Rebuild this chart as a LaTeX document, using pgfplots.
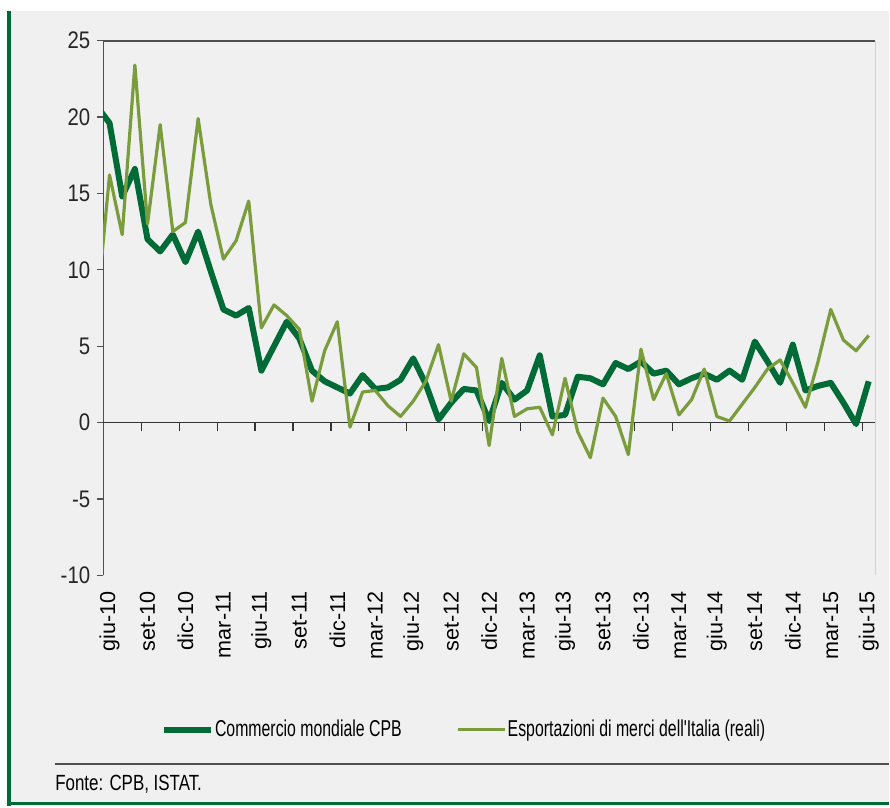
\documentclass[border=0pt]{standalone}
\usepackage{pgfplots}
\pgfplotsset{compat=1.18}
\usepackage{fontspec}
\setmainfont{Liberation Sans}
\newfontfamily\narrowA{Liberation Sans}[FakeStretch=0.69]
\newfontfamily\narrowB{Liberation Sans}[FakeStretch=0.85]
\newfontfamily\narrowC{Liberation Sans}[FakeStretch=0.77]

\definecolor{bggray}{RGB}{240,240,240}
\definecolor{dkgreen}{RGB}{0,107,55}
\definecolor{ltgreen}{RGB}{122,156,60}
\definecolor{axgray}{RGB}{80,80,80}

\begin{document}
\begin{tikzpicture}
% page and frame
\fill[white] (0,0) rectangle (445pt,403.5pt);
\fill[bggray] (5.5pt,0) rectangle (445pt,398pt);
\draw[dkgreen, line width=1.75pt] (4.6pt,0) -- (4.6pt,398pt);
\draw[dkgreen, line width=1.5pt] (5pt,1.25pt) -- (445pt,1.25pt);
\draw[axgray, line width=1pt] (27.5pt,21pt) -- (445pt,21pt);
\node[anchor=west, inner sep=0pt, font=\narrowC\fontsize{11}{12}\selectfont] at (27.5pt,10.5pt) {Fonte: CPB, ISTAT.};

\begin{axis}[
    scale only axis, width=386.55pt, height=267.8pt,
    at={(51.7pt,115.35pt)}, anchor=south west,
    xmin=-0.5, xmax=60.5, ymin=-10, ymax=25,
    axis line style={draw=none},
    xtick={0,3,...,60},
    xticklabels={giu-10,set-10,dic-10,mar-11,giu-11,set-11,dic-11,mar-12,giu-12,set-12,dic-12,mar-13,giu-13,set-13,dic-13,mar-14,giu-14,set-14,dic-14,mar-15,giu-15},
    xtick style={draw=none},
    xticklabel style={rotate=90, anchor=east, font=\fontsize{10.8}{12}\selectfont, text=black},
    xticklabel shift={1.5pt},
    ytick={-10,-5,...,25}, ytick pos=left, tick align=outside,
    major tick length=3pt,
    ytick style={axgray, line width=0.6pt},
    yticklabel style={font=\narrowB\fontsize{12}{12}\selectfont, text=black!85},
    /pgf/number format/assume math mode=true,
    legend style={at={(rel axis cs:0.0745,-0.289)}, anchor=west, draw=none, fill=none,
        inner sep=0pt, font=\narrowA\fontsize{11.5}{12}\selectfont,
        nodes={inner xsep=0.5pt},
        /tikz/every even column/.append style={column sep=27pt}},
    legend columns=2,
    legend image code/.code={\draw[#1] (0pt,0pt) -- (23.5pt,0pt);},
]
% axis frame lines and ticks on the zero line
\draw[axgray, line width=0.6pt] (axis cs:-0.5,-10) -- (axis cs:-0.5,25);
\draw[axgray, line width=1pt] (axis cs:-0.5,25) -- (axis cs:60.5,25);
\draw[black, line width=0.5pt] (axis cs:60.5,25) -- (axis cs:60.5,-10);
\draw[black!80, line width=0.7pt] (axis cs:-0.5,0) -- (axis cs:60.5,0);
\pgfplotsinvokeforeach{2.5,5.5,...,59.5}{\draw[black!80, line width=0.6pt] (axis cs:#1,0) -- ++(0pt,-4pt);}

\addplot[dkgreen, line width=3pt, line join=round, no markers] coordinates {
(-1,20.7) (0,19.6) (1,14.8) (2,16.6) (3,12.0) (4,11.2) (5,12.3) (6,10.5) (7,12.5) (8,9.9)
(9,7.4) (10,7.0) (11,7.5) (12,3.4) (13,5.0) (14,6.6) (15,5.5) (16,3.4) (17,2.7) (18,2.3)
(19,1.9) (20,3.1) (21,2.2) (22,2.3) (23,2.8) (24,4.2) (25,2.5) (26,0.2) (27,1.3) (28,2.2)
(29,2.1) (30,0.1) (31,2.6) (32,1.5) (33,2.1) (34,4.4) (35,0.4) (36,0.5) (37,3.0) (38,2.9)
(39,2.5) (40,3.9) (41,3.5) (42,4.0) (43,3.2) (44,3.4) (45,2.5) (46,2.9) (47,3.2) (48,2.8)
(49,3.4) (50,2.8) (51,5.3) (52,4.0) (53,2.6) (54,5.1) (55,2.1) (56,2.4) (57,2.6) (58,1.3)
(59,-0.1) (60,2.7)
};
\addlegendentry{Commercio mondiale CPB}

\addplot[ltgreen, line width=1.6pt, line join=round, no markers] coordinates {
(-1,7.5) (0,16.2) (1,12.3) (2,23.4) (3,13.0) (4,19.5) (5,12.5) (6,13.1) (7,19.9) (8,14.3)
(9,10.7) (10,11.9) (11,14.5) (12,6.2) (13,7.7) (14,7.0) (15,6.1) (16,1.4) (17,4.7) (18,6.6)
(19,-0.3) (20,2.0) (21,2.1) (22,1.1) (23,0.4) (24,1.4) (25,2.7) (26,5.1) (27,1.4) (28,4.5)
(29,3.6) (30,-1.5) (31,4.2) (32,0.4) (33,0.9) (34,1.0) (35,-0.8) (36,2.9) (37,-0.6) (38,-2.3)
(39,1.6) (40,0.4) (41,-2.1) (42,4.8) (43,1.5) (44,3.2) (45,0.5) (46,1.5) (47,3.5) (48,0.4)
(49,0.1) (50,1.2) (51,2.3) (52,3.5) (53,4.1) (54,2.6) (55,1.0) (56,4.0) (57,7.4) (58,5.4)
(59,4.7) (60,5.7)
};
\addlegendentry{Esportazioni di merci dell'Italia (reali)}
\end{axis}
\end{tikzpicture}
\end{document}
